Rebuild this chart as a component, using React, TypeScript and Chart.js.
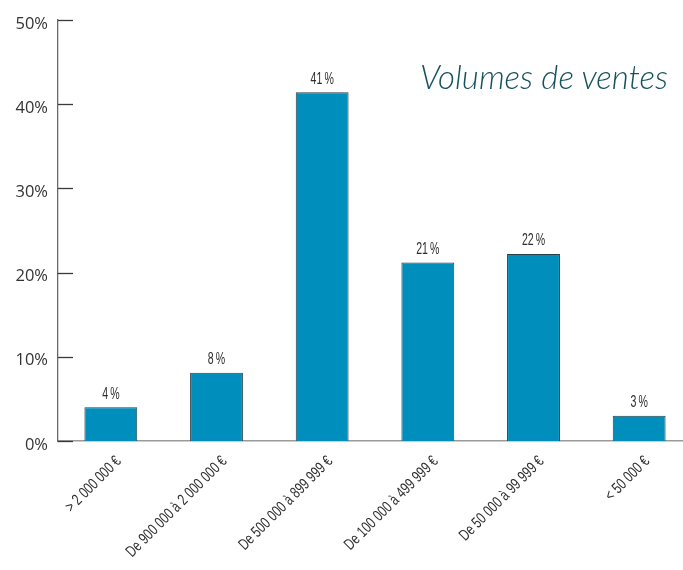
import React, { useEffect, useRef } from "react";
import { Chart, registerables } from "chart.js";

Chart.register(...registerables);

const categories = [
  "> 2 000 000 €",
  "De 900 000 à 2 000 000 €",
  "De 500 000 à 899 999 €",
  "De 100 000 à 499 999 €",
  "De 50 000 à 99 999 €",
  "< 50 000 €",
];
const shares = [4.0, 8.1, 41.4, 21.2, 22.2, 3.0];
const shareLabels = ["4\u2009%", "8\u2009%", "41\u2009%", "21\u2009%", "22\u2009%", "3\u2009%"];
const yTicks = [0, 10, 20, 30, 40, 50];

const LABEL_FONT = "'Liberation Sans', Arial, sans-serif";

const innerTicks = {
  id: "innerTicks",
  afterDraw(chart: any) {
    const { ctx, scales } = chart;
    const y = scales.y;
    const left = chart.chartArea.left;
    ctx.save();
    ctx.strokeStyle = "#3a3a3a";
    ctx.lineWidth = 1.3;
    yTicks.forEach((v) => {
      const py = Math.round(y.getPixelForValue(v)) + 0.5;
      ctx.beginPath();
      ctx.moveTo(left, py);
      ctx.lineTo(left + 15, py);
      ctx.stroke();
    });
    ctx.restore();
  },
};

const condensedXLabels = {
  id: "condensedXLabels",
  afterDraw(chart: any) {
    const { ctx, scales } = chart;
    const x = scales.x;
    ctx.save();
    ctx.fillStyle = "#2e2e2e";
    ctx.font = `16px ${LABEL_FONT}`;
    ctx.textAlign = "right";
    ctx.textBaseline = "middle";
    categories.forEach((label, i) => {
      const px = x.getPixelForTick(i);
      ctx.save();
      ctx.translate(px + 8, x.top + 18);
      ctx.rotate(-Math.PI / 4);
      ctx.scale(0.73, 1);
      ctx.fillText(label, 0, 0);
      ctx.restore();
    });
    ctx.restore();
  },
};

const valueLabels = {
  id: "valueLabels",
  afterDatasetsDraw(chart: any) {
    const { ctx } = chart;
    const meta = chart.getDatasetMeta(0);
    ctx.save();
    ctx.fillStyle = "#2e2e2e";
    ctx.font = `16px ${LABEL_FONT}`;
    ctx.textAlign = "center";
    ctx.textBaseline = "bottom";
    meta.data.forEach((bar: any, i: number) => {
      ctx.save();
      ctx.translate(bar.x, bar.y - 5);
      ctx.scale(0.66, 1);
      ctx.fillText(shareLabels[i], 0, 0);
      ctx.restore();
    });
    ctx.restore();
  },
};

export default function App() {
  const ref = useRef<HTMLCanvasElement | null>(null);

  useEffect(() => {
    document.body.style.margin = "0";
    document.body.style.overflow = "hidden";
    const canvas = ref.current;
    if (!canvas) return;
    const chart = new Chart(canvas, {
      type: "bar",
      data: {
        labels: categories,
        datasets: [
          {
            data: shares,
            backgroundColor: "#008fbd",
            borderColor: "#2b3f47",
            borderWidth: 1,
            barPercentage: 0.5,
            categoryPercentage: 1,
          },
        ],
      },
      options: {
        responsive: false,
        animation: false,
        layout: { padding: { top: 19, right: 8, left: 0, bottom: 0 } },
        plugins: {
          legend: { display: false },
          tooltip: { enabled: false },
          title: { display: false },
        },
        scales: {
          x: {
            offset: true,
            grid: { display: false, drawTicks: false },
            border: { display: true, color: "#9a9a9a", width: 1.5 },
            ticks: { display: false, autoSkip: false },
            afterFit: (s: any) => {
              s.height = 129;
            },
          },
          y: {
            min: 0,
            max: 50,
            grid: { display: false, drawTicks: false },
            border: { display: true, color: "#6a6a6a", width: 1.3 },
            ticks: {
              stepSize: 10,
              padding: 10,
              labelOffset: 4,
              color: "#333333",
              font: { family: "'Open Sans', sans-serif", size: 16.5 },
              callback: (v: any) => `${v}%`,
            },
            afterFit: (s: any) => {
              s.width = 58;
            },
          },
        },
      },
      plugins: [innerTicks, valueLabels, condensedXLabels],
    });
    return () => chart.destroy();
  }, []);

  return (
    <div style={{ position: "relative", width: 683, height: 570, overflow: "hidden", background: "#fff" }}>
      <canvas ref={ref} width={700} height={570} style={{ position: "absolute", left: 0, top: 0, width: 700, height: 570 }} />
      <div
        style={{
          position: "absolute",
          right: 15,
          top: 56,
          fontFamily: "'Lato', sans-serif",
          fontWeight: 300,
          fontStyle: "italic",
          fontSize: 33,
          color: "#15525f",
          whiteSpace: "nowrap",
        }}
      >
        Volumes de ventes
      </div>
    </div>
  );
}
